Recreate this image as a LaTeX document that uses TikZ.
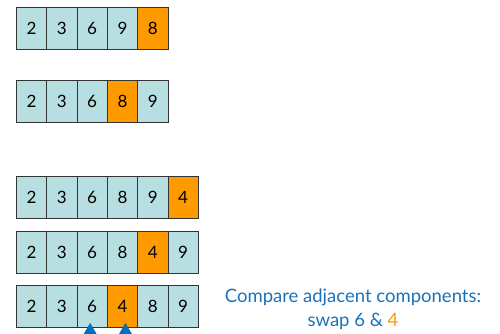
\documentclass[tikz,border=0pt]{standalone}
\usepackage{fontspec}
\setmainfont{Lato}
\usetikzlibrary{arrows.meta,positioning}
\definecolor{cellblue}{HTML}{B7DFE2}
\definecolor{hiorange}{HTML}{FF9900}
\definecolor{textblue}{HTML}{1A72BC}
\definecolor{arrowblue}{HTML}{0070C0}

% one row of cells: name, top y, values, highlighted index
\newcommand{\cellrow}[4]{%
  \foreach \v [count=\i] in {#3} {
    \ifnum\i=#4 \def\cf{hiorange}\else\def\cf{cellblue}\fi
    \node[cell, fill=\cf] (#1\i) at (16+30.3*\i-30.3, #2) {\v};
  }}

\begin{document}
\begin{tikzpicture}[x=1pt, y=-1pt, font=\fontsize{17}{20}\selectfont,
  cell/.style={draw=black!80, line width=0.8pt, anchor=north west, minimum width=30.3pt,
               minimum height=42pt, inner sep=0pt},
  up/.style={-{Triangle[length=11pt, width=12pt]}, line width=2.5pt, color=arrowblue}]
\useasboundingbox (0,0) rectangle (500,333);

% ---------------- insertion steps
\cellrow{ra}{7}{2,3,6,9,8}{5}
\cellrow{rb}{80}{2,3,6,8,9}{4}
\cellrow{rc}{176}{2,3,6,8,9,4}{6}
\cellrow{rd}{231}{2,3,6,8,4,9}{5}
\cellrow{re}{285}{2,3,6,4,8,9}{4}

% ---------------- compare markers
\coordinate (m1) at ([xshift=-2pt, yshift=-30pt]re3.south);
\coordinate (m2) at ([xshift=3pt, yshift=-30pt]re4.south);
\draw[up] (m1) -- ([xshift=-2pt, yshift=5pt]re3.south);
\draw[up] (m2) -- ([xshift=3pt, yshift=5pt]re4.south);

\node[text=textblue, align=center, font=\fontsize{18.5}{24}\selectfont] (note) at (353,309)
  {Compare adjacent components:\\swap 6 \& {\color{hiorange}4}};
\end{tikzpicture}
\end{document}
